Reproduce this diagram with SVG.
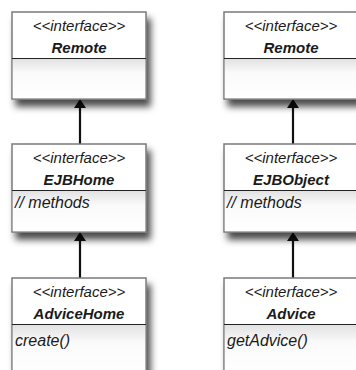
<svg xmlns="http://www.w3.org/2000/svg" width="356" height="370" viewBox="0 0 356 370">
<defs>
<style>
.box{fill:#fff;stroke:#7a7a7a;stroke-width:1.5}
.div{stroke:#222;stroke-width:1.2}
.comp{fill:url(#cg)}
text{font-family:"Liberation Sans",Arial,sans-serif;font-size:15px;font-style:italic;fill:#1a1a1a}
.st{text-anchor:middle}
.nm{text-anchor:middle;font-weight:bold}
.mt{font-size:16px}
.conn{stroke:#111;stroke-width:2.2;fill:none}
</style>
<filter id="sh" x="-10%" y="-10%" width="130%" height="140%">
<feDropShadow dx="4" dy="7" stdDeviation="3.5" flood-color="#000" flood-opacity="0.7"/>
</filter>
<linearGradient id="cg" x1="0" y1="0" x2="0" y2="1">
<stop offset="0" stop-color="#e2e2e2"/>
<stop offset="0.35" stop-color="#fafafa"/>
<stop offset="1" stop-color="#fff"/>
</linearGradient>
</defs>
<g id="connectors">
<path class="conn" d="M80,144 L80,106"/>
<path d="M74,108 L80,99 L86,108 Z" fill="#111"/>
<path class="conn" d="M80,278 L80,239"/>
<path d="M74,241 L80,232 L86,241 Z" fill="#111"/>
<path class="conn" d="M293,144 L293,106"/>
<path d="M287,108 L293,99 L299,108 Z" fill="#111"/>
<path class="conn" d="M293,278 L293,239"/>
<path d="M287,241 L293,232 L299,241 Z" fill="#111"/>
</g>
<g id="remote-left">
<rect class="box" x="12" y="12" width="134" height="87" filter="url(#sh)"/>
<rect class="comp" x="12.8" y="59" width="132.4" height="39.2"/>
<line class="div" x1="12" y1="58.5" x2="146" y2="58.5"/>
<text class="st" x="79" y="31">&lt;&lt;interface&gt;&gt;</text>
<text class="nm" x="79" y="53">Remote</text>
</g>
<g id="ejbhome">
<rect class="box" x="12" y="144" width="134" height="88" filter="url(#sh)"/>
<rect class="comp" x="12.8" y="191" width="132.4" height="40.2"/>
<line class="div" x1="12" y1="190.5" x2="146" y2="190.5"/>
<text class="st" x="79" y="163">&lt;&lt;interface&gt;&gt;</text>
<text class="nm" x="79" y="185">EJBHome</text>
<text class="mt" x="15" y="208">// methods</text>
</g>
<g id="advicehome">
<rect class="box" x="12" y="278" width="134" height="100" filter="url(#sh)"/>
<rect class="comp" x="12.8" y="325" width="132.4" height="50"/>
<line class="div" x1="12" y1="324.5" x2="146" y2="324.5"/>
<text class="st" x="79" y="297">&lt;&lt;interface&gt;&gt;</text>
<text class="nm" x="79" y="319">AdviceHome</text>
<text class="mt" x="15" y="346">create()</text>
</g>
<g id="remote-right">
<rect class="box" x="224" y="12" width="134" height="87" filter="url(#sh)"/>
<rect class="comp" x="224.8" y="59" width="132.4" height="39.2"/>
<line class="div" x1="224" y1="58.5" x2="358" y2="58.5"/>
<text class="st" x="291" y="31">&lt;&lt;interface&gt;&gt;</text>
<text class="nm" x="291" y="53">Remote</text>
</g>
<g id="ejbobject">
<rect class="box" x="224" y="144" width="134" height="88" filter="url(#sh)"/>
<rect class="comp" x="224.8" y="191" width="132.4" height="40.2"/>
<line class="div" x1="224" y1="190.5" x2="358" y2="190.5"/>
<text class="st" x="291" y="163">&lt;&lt;interface&gt;&gt;</text>
<text class="nm" x="291" y="185">EJBObject</text>
<text class="mt" x="227" y="208">// methods</text>
</g>
<g id="advice">
<rect class="box" x="224" y="278" width="134" height="100" filter="url(#sh)"/>
<rect class="comp" x="224.8" y="325" width="132.4" height="50"/>
<line class="div" x1="224" y1="324.5" x2="358" y2="324.5"/>
<text class="st" x="291" y="297">&lt;&lt;interface&gt;&gt;</text>
<text class="nm" x="291" y="319">Advice</text>
<text class="mt" x="227" y="346">getAdvice()</text>
</g>
</svg>
